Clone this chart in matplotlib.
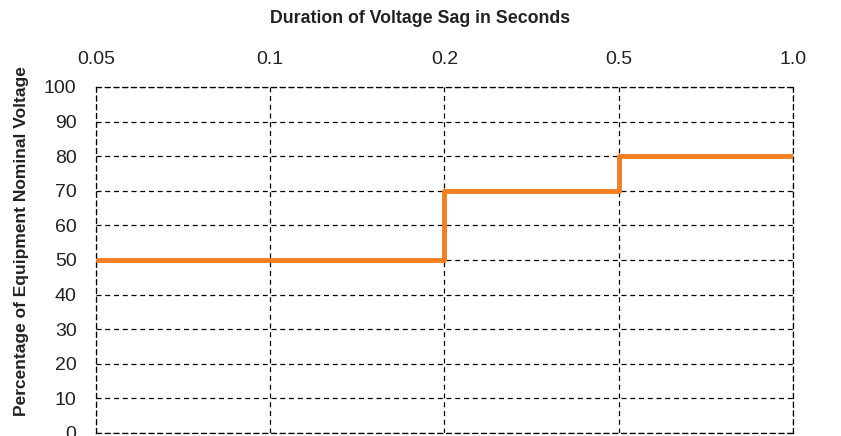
import matplotlib.pyplot as plt
from matplotlib import font_manager

durations = ["0.05", "0.1", "0.2", "0.5", "1.0"]
step_at = ["0.05", "0.2", "0.5", "1.0"]
voltage = [50, 70, 80, 80]
y_ticks = list(range(0, 101, 10))

names = {f.name for f in font_manager.fontManager.ttflist}
narrow = "Liberation Sans Narrow" if "Liberation Sans Narrow" in names else "Liberation Sans"
plt.rcParams["font.family"] = [narrow, "DejaVu Sans"]

fig = plt.figure(figsize=(8.41, 4.36), dpi=100)
ax = fig.add_axes([0.1141, 0.0069, 0.8288, 0.7936])

xs = [durations.index(d) for d in step_at]
ax.step(xs, voltage, where="post", color="#F47D20", lw=3.5, zorder=3,
        solid_capstyle="butt")

ax.set_xlim(0, len(durations) - 1)
ax.set_ylim(0, 100)
ax.set_xticks(range(len(durations)))
ax.set_xticklabels(durations)
ax.set_yticks(y_ticks)
ax.xaxis.tick_top()
ax.tick_params(axis="both", length=0, labelsize=14, colors="#222222")
ax.tick_params(axis="x", pad=14)
ax.tick_params(axis="y", pad=14)

ax.grid(True, color="black", lw=0.9, linestyle=(0, (4, 3)))
for s in ax.spines.values():
    s.set_linestyle((0, (4, 3)))
    s.set_linewidth(0.9)

fig.text(0.5, 0.958, "Duration of Voltage Sag in Seconds", ha="center", va="center",
         fontsize=12.8, fontweight="bold", color="#222222")
fig.text(0.026, 0.447, "Percentage of Equipment Nominal Voltage", ha="center",
         va="center", rotation=90, fontsize=12.5, fontweight="bold", color="#222222")

fig.savefig("out.png", dpi=100)
